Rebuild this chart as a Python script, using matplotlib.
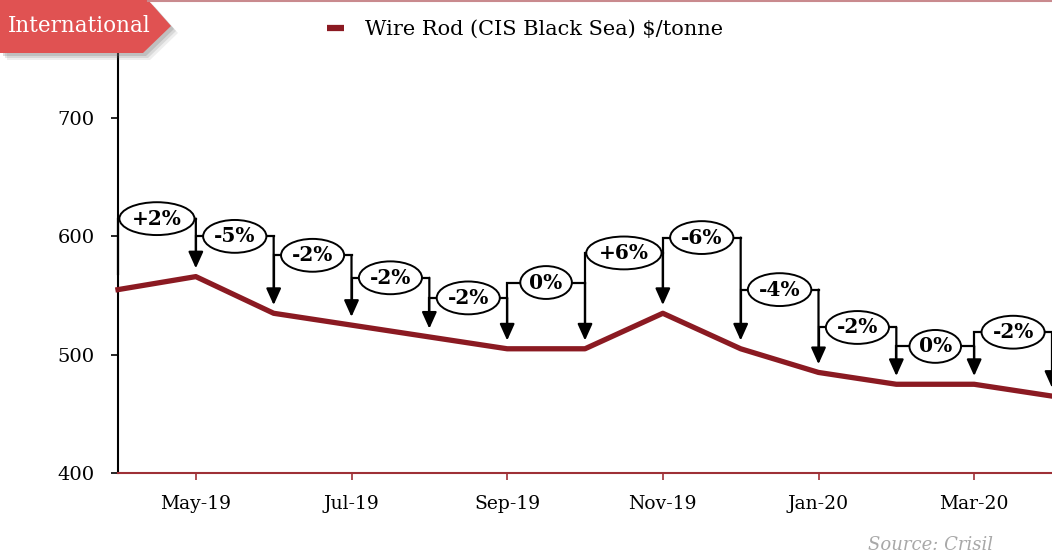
import numpy as np
import matplotlib
matplotlib.use('Agg')
import matplotlib.pyplot as plt
from matplotlib.patches import Polygon
from matplotlib.lines import Line2D

# monthly wire rod price, CIS Black Sea ($/tonne)
months = ['Apr-19', 'May-19', 'Jun-19', 'Jul-19', 'Aug-19', 'Sep-19', 'Oct-19',
          'Nov-19', 'Dec-19', 'Jan-20', 'Feb-20', 'Mar-20', 'Apr-20']
price = [555, 566, 535, 525, 515, 505, 505, 535, 505, 485, 475, 475, 465]

# month on month change labels and the level the bubble sits at
change_labels = ['+2%', '-5%', '-2%', '-2%', '-2%', '0%', '+6%', '-6%', '-4%', '-2%', '0%', '-2%']
label_level = [615, 600, 584, 565, 548, 561, 586, 599, 555, 523, 507, 519]

tick_months = ['May-19', 'Jul-19', 'Sep-19', 'Nov-19', 'Jan-20', 'Mar-20']
yticks = [400, 500, 600, 700]

plt.rcParams['font.family'] = ['DejaVu Serif']

W, H = 1052, 558
fig = plt.figure(figsize=(W / 100, H / 100), dpi=100)
ax = fig.add_axes([118 / W, 1 - 473 / H, 1 - 118 / W, (473 - 53) / H])

x = np.arange(len(months))
ax.plot(x, price, color='#8B1A22', lw=3.8, zorder=3, clip_on=False)

# brackets with arrows
gap = 7
for i in range(len(change_labels)):
    x0, x1 = x[i], x[i + 1]
    lev = label_level[i]
    ax.plot([x0, x0, x1], [price[i] + gap + 6, lev, lev], color='black', lw=1.6,
            zorder=4, clip_on=False, solid_joinstyle='miter')
    ax.annotate('', xy=(x1, price[i + 1] + gap), xytext=(x1, lev),
                arrowprops=dict(arrowstyle='-|>,head_length=1.0,head_width=0.45',
                                color='black', lw=1.6, shrinkA=0, shrinkB=0),
                zorder=4, annotation_clip=False)
    ax.text((x0 + x1) / 2, lev, change_labels[i], ha='center', va='center',
            fontsize=14.5, fontweight='bold', zorder=5, clip_on=False,
            bbox=dict(boxstyle='ellipse,pad=0.08', fc='white', ec='black', lw=1.4))

ax.set_xlim(0, len(months) - 1)
ax.set_ylim(400, 755)
ax.set_xticks([months.index(m) for m in tick_months])
ax.set_xticklabels(tick_months)
ax.set_yticks(yticks)

for s in ['top', 'right']:
    ax.spines[s].set_visible(False)
ax.spines['left'].set_color('black')
ax.spines['left'].set_linewidth(1.5)
ax.spines['bottom'].set_color('#9E3036')
ax.spines['bottom'].set_linewidth(1.5)
ax.tick_params(axis='y', length=5, width=1.2, pad=12, labelsize=14, colors='black')
ax.tick_params(axis='x', length=5, width=1.2, pad=11, labelsize=13.5,
               color='#9E3036', labelcolor='black')

# top frame line
fig.add_artist(Line2D([148 / W, 1], [1 - 1 / H, 1 - 1 / H], color='#c98a8e', lw=1.5))

# section tag
def px(pts):
    return [(a / W, 1 - b / H) for a, b in pts]

tag = [(0, 0), (148, 0), (171, 26), (143, 53), (0, 53)]
for k, al in [(7, 0.12), (5, 0.18), (3, 0.25)]:
    fig.add_artist(Polygon(px([(a + k, b + k) for a, b in tag]), closed=True,
                           fc='#777777', ec='none', alpha=al))
fig.add_artist(Polygon(px(tag), closed=True, fc='#E05252', ec='none'))
fig.text(8 / W, 1 - 26 / H, 'International', color='white', fontsize=15.5,
         ha='left', va='center')

# legend
fig.add_artist(Line2D([327 / W, 344 / W], [1 - 28 / H, 1 - 28 / H], color='#8B1A22', lw=4.5,
                      solid_capstyle='butt'))
fig.text(365 / W, 1 - 29 / H, 'Wire Rod (CIS Black Sea) $/tonne', fontsize=15,
         ha='left', va='center')

fig.text(993 / W, 1 - 545 / H, 'Source: Crisil', fontsize=13, style='italic',
         color='#a8a8a8', ha='right', va='center')

fig.savefig('out.png', dpi=100)
